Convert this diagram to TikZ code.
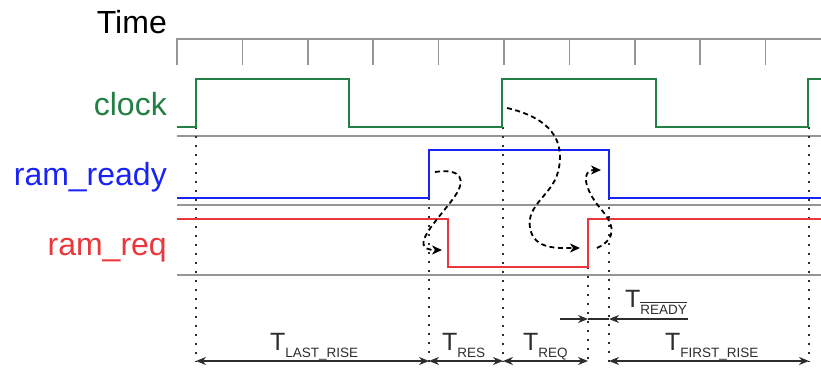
\documentclass[tikz,border=0pt]{standalone}
\usepackage{fontspec}
\setmainfont{Liberation Sans}
\usetikzlibrary{arrows.meta}
\definecolor{clk}{RGB}{34,128,68}
\definecolor{rdy}{RGB}{25,35,245}
\definecolor{req}{RGB}{235,55,60}
\definecolor{railgray}{RGB}{150,150,150}
\definecolor{dimgray}{RGB}{45,45,45}
% T with a lowered, smaller subscript
\newcommand{\tspan}[1]{{\fontsize{25}{25}\selectfont T}\raisebox{-7pt}{\fontsize{13.5}{13.5}\selectfont #1}}
% bar over a word (active-low signal)
\newsavebox{\ovlbox}
\newcommand{\barred}[1]{\sbox\ovlbox{#1}\rlap{\raisebox{\dimexpr\ht\ovlbox+1.4pt\relax}{\rule{\wd\ovlbox}{0.9pt}}}\usebox\ovlbox}
\begin{document}
\begin{tikzpicture}[x=1pt,y=-1pt,
  signame/.style={anchor=base east, font=\fontsize{32}{36}\selectfont, inner sep=0pt},
  wave/.style={line width=2pt, line join=miter},
  rail/.style={railgray, line width=1.5pt},
  guide/.style={dimgray, line width=2pt, dash pattern=on 2pt off 7pt},
  span/.style={dimgray, line width=1.5pt, {Stealth[length=10pt,width=8pt]}-{Stealth[length=10pt,width=8pt]}},
  half/.style={dimgray, line width=1.5pt, -{Stealth[length=10pt,width=8pt]}},
  cause/.style={black, line width=1.8pt, dash pattern=on 5pt off 3.5pt, -{Stealth[length=10pt,width=9pt,inset=3pt]}},
  dimlabel/.style={anchor=base west, inner sep=0pt, text=dimgray}]
\useasboundingbox (0,0) rectangle (821,372);

% signal names
\node[signame, text=black] (timelbl)  at (167,33)  {Time};
\node[signame, text=clk]   (clocklbl) at (167,115) {clock};
\node[signame, text=rdy]   (readylbl) at (167,185) {ram\_ready};
\node[signame, text=req]   (reqlbl)   at (167,255) {ram\_req};

% time axis with ticks
\draw[rail] (177,65) -- (177,39) -- (821,39);
\foreach \k in {1,...,9} \draw[rail] (177+65.4*\k,39) -- (177+65.4*\k,65);

% lane baselines
\draw[rail] (177,136) -- (821,136);
\draw[rail] (177,205) -- (821,205);
\draw[rail] (177,275) -- (821,275);

% guide lines
\coordinate (g1t) at (196,127); \coordinate (g1b) at (196,362);
\coordinate (g2t) at (429,198); \coordinate (g2b) at (429,362);
\coordinate (g3t) at (503,127); \coordinate (g3b) at (503,362);
\coordinate (g4t) at (588,267); \coordinate (g4b) at (588,362);
\coordinate (g5t) at (609,198); \coordinate (g5b) at (609,362);
\coordinate (g6t) at (809,127); \coordinate (g6b) at (809,362);
\foreach \g in {g1,g2,g3,g4,g5,g6} \draw[guide] (\g t) -- (\g b);

% waveforms
\draw[wave, clk] (177,127) -- (196,127) -- (196,79) -- (349,79) -- (349,127)
  -- (502,127) -- (502,79) -- (656,79) -- (656,127) -- (808,127) -- (808,79) -- (821,79);
\draw[wave, rdy] (177,198) -- (429,198) -- (429,150) -- (609,150) -- (609,198) -- (821,198);
\draw[wave, req] (177,219) -- (448,219) -- (448,267) -- (588,267) -- (588,219) -- (821,219);

% cause and effect
\draw[cause] (435,172) .. controls (462,168) and (466,180) .. (455,196)
  .. controls (440,218) and (405,250) .. (442,250);
\draw[cause] (507,108) .. controls (550,118) and (566,140) .. (558,172)
  .. controls (552,195) and (526,205) .. (530,228)
  .. controls (534,250) and (558,248) .. (580,248);
\draw[cause] (597,248) .. controls (618,238) and (614,224) .. (600,208)
  .. controls (585,190) and (580,170) .. (601,170);

% interval dimensions
\coordinate (d1) at (196,361); \coordinate (d2) at (429,361);
\coordinate (d3) at (503,361); \coordinate (d4) at (588,361);
\coordinate (d5) at (609,361); \coordinate (d6) at (809,361);
\draw[span] (d1) -- (d2);
\draw[span] (d2) -- (d3);
\draw[span] (d3) -- (d4);
\draw[span] (d5) -- (d6);

\coordinate (r0) at (560,319); \coordinate (r1) at (588,319);
\coordinate (r2) at (609,319); \coordinate (r3) at (688,319);
\draw[half] (r0) -- (r1);
\draw[dimgray, line width=1.5pt] (r1) -- (r2);
\draw[half] (r3) -- (r2);

\node[dimlabel] (tlast)  at (270,350) {\tspan{LAST\_RISE}};
\node[dimlabel] (tres)   at (442,350) {\tspan{RES}};
\node[dimlabel] (treq)   at (523,350) {\tspan{REQ}};
\node[dimlabel] (tfirst) at (665,350) {\tspan{FIRST\_RISE}};
\node[dimlabel] (tready) at (625,307) {\tspan{\barred{READY}}};
\end{tikzpicture}
\end{document}
